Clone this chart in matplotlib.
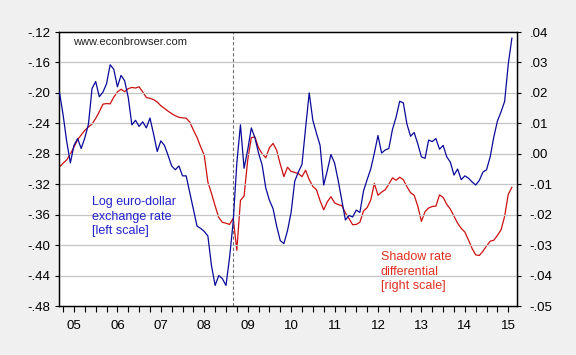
import numpy as np
import matplotlib
matplotlib.use("Agg")
import matplotlib.pyplot as plt
from matplotlib.ticker import FixedLocator, FuncFormatter

# ================= DATA (monthly, Sep 2004 - Feb 2015) =================
START_YEAR = 2004
START_MONTH = 9

# log euro-dollar exchange rate (left scale)
euro_dollar = [
    -0.199, -0.229, -0.264, -0.292, -0.269, -0.260, -0.273, -0.259, -0.241, -0.194,
    -0.185, -0.205, -0.199, -0.188, -0.163, -0.169, -0.192, -0.177, -0.184, -0.206,
    -0.242, -0.236, -0.244, -0.238, -0.246, -0.233, -0.254, -0.277, -0.263, -0.269,
    -0.282, -0.296, -0.301, -0.296, -0.309, -0.309, -0.331, -0.353, -0.375, -0.378,
    -0.382, -0.388, -0.427, -0.453, -0.440, -0.444, -0.453, -0.416, -0.369, -0.292,
    -0.242, -0.299, -0.275, -0.246, -0.259, -0.279, -0.295, -0.325, -0.341, -0.352,
    -0.375, -0.394, -0.398, -0.381, -0.357, -0.316, -0.304, -0.294, -0.246, -0.200,
    -0.236, -0.253, -0.269, -0.321, -0.302, -0.281, -0.292, -0.315, -0.341, -0.367,
    -0.361, -0.363, -0.354, -0.357, -0.329, -0.314, -0.300, -0.279, -0.256, -0.279,
    -0.275, -0.273, -0.248, -0.232, -0.211, -0.213, -0.241, -0.257, -0.252, -0.267,
    -0.284, -0.286, -0.262, -0.264, -0.260, -0.274, -0.269, -0.284, -0.291, -0.308,
    -0.300, -0.314, -0.309, -0.312, -0.317, -0.321, -0.315, -0.304, -0.301, -0.284,
    -0.258, -0.237, -0.225, -0.211, -0.162, -0.128,
]

# shadow rate differential (right scale)
shadow_diff = [
    -0.0043, -0.0031, -0.0020, -0.0001, 0.0022, 0.0046, 0.0062, 0.0077, 0.0088, 0.0098,
    0.0116, 0.0138, 0.0163, 0.0165, 0.0164, 0.0186, 0.0203, 0.0212, 0.0204, 0.0214,
    0.0218, 0.0216, 0.0220, 0.0203, 0.0185, 0.0182, 0.0178, 0.0170, 0.0158, 0.0149,
    0.0140, 0.0132, 0.0125, 0.0120, 0.0118, 0.0117, 0.0104, 0.0078, 0.0054, 0.0023,
    -0.0005, -0.0093, -0.0130, -0.0171, -0.0209, -0.0225, -0.0228, -0.0232, -0.0212, -0.0317,
    -0.0153, -0.0139, -0.0021, 0.0053, 0.0055, 0.0020, 0.0000, -0.0013, 0.0020, 0.0034,
    0.0012, -0.0034, -0.0075, -0.0044, -0.0058, -0.0061, -0.0065, -0.0075, -0.0054, -0.0085,
    -0.0107, -0.0118, -0.0154, -0.0184, -0.0158, -0.0141, -0.0161, -0.0167, -0.0170, -0.0194,
    -0.0213, -0.0233, -0.0232, -0.0225, -0.0188, -0.0177, -0.0152, -0.0097, -0.0136, -0.0126,
    -0.0118, -0.0100, -0.0079, -0.0087, -0.0077, -0.0085, -0.0108, -0.0128, -0.0136, -0.0172,
    -0.0222, -0.0190, -0.0178, -0.0173, -0.0172, -0.0135, -0.0143, -0.0166, -0.0182, -0.0205,
    -0.0228, -0.0245, -0.0257, -0.0283, -0.0311, -0.0332, -0.0334, -0.0320, -0.0303, -0.0287,
    -0.0284, -0.0268, -0.0250, -0.0205, -0.0133, -0.0110,
]

year_ticks = list(range(2005, 2016))
year_labels = ["05", "06", "07", "08", "09", "10", "11", "12", "13", "14", "15"]
left_ticks = [-0.48, -0.44, -0.40, -0.36, -0.32, -0.28, -0.24, -0.20, -0.16, -0.12]
right_ticks = [-0.05, -0.04, -0.03, -0.02, -0.01, 0.00, 0.01, 0.02, 0.03, 0.04]
lehman = 2008 + 8 / 12

# ================= STYLE =================
plt.rcParams['font.family'] = ['Liberation Sans', 'DejaVu Sans']
BG = "#F0F0F0"
BLUE_LINE = "#0A0A9A"
RED_LINE = "#CC1010"
BLUE_TXT = "#2222CC"
RED_TXT = "#E03020"


def short_fmt(v, pos=None):
    s = f"{v:.2f}"
    if s == "-0.00":
        s = "0.00"
    return s.replace("0.", ".", 1)


t = START_YEAR + (START_MONTH - 1) / 12 + np.arange(len(euro_dollar)) / 12

# ================= PLOT =================
fig = plt.figure(figsize=(5.76, 3.55), dpi=100, facecolor=BG)
ax = fig.add_axes([0.1024, 0.138, 0.7951, 0.7718])
ax2 = ax.twinx()

ax.set_xlim(2004.655, 2015.2)
ax.set_ylim(-0.48, -0.12)
ax2.set_ylim(-0.05, 0.04)

for y in left_ticks[1:-1]:
    ax.axhline(y, color="#C4C4C4", lw=0.9, zorder=0)

ax.axvline(lehman, color="#707070", lw=0.8, ls=(0, (3, 2)), zorder=1)

ax2.plot(t, shadow_diff, color=RED_LINE, lw=0.9, zorder=2)
ax.plot(t, euro_dollar, color=BLUE_LINE, lw=0.9, zorder=3)
ax.set_zorder(ax2.get_zorder() + 1)
ax.patch.set_visible(False)
ax2.patch.set_facecolor("white")
ax2.patch.set_visible(True)

# x axis: years labelled at January, quarterly ticks
ax.xaxis.set_major_locator(FixedLocator(year_ticks))
ax.set_xticklabels(year_labels)
qticks = np.arange(2004.75, 2015.2, 0.25)
ax.xaxis.set_minor_locator(FixedLocator(qticks))
ax.tick_params(axis="x", which="both", direction="out", length=4, width=0.8,
               labelsize=9.5, pad=6)

ax.yaxis.set_major_locator(FixedLocator(left_ticks))
ax.yaxis.set_major_formatter(FuncFormatter(short_fmt))
ax.tick_params(axis="y", direction="out", length=3, width=0.8, labelsize=9.5, pad=3)

ax2.yaxis.set_major_locator(FixedLocator(right_ticks))
ax2.yaxis.set_major_formatter(FuncFormatter(short_fmt))
ax2.tick_params(axis="y", direction="out", length=3, width=0.8, labelsize=9.5, pad=6)

for a in (ax, ax2):
    for sp in a.spines.values():
        sp.set_linewidth(0.9)
        sp.set_color("black")

# ================= TEXT =================
ax.text(0.0306, 0.9635, "www.econbrowser.com", transform=ax.transAxes,
        fontsize=8, color="#222222", va="center", ha="left")
ax.text(0.072, 0.326, "Log euro-dollar\nexchange rate\n[left scale]",
        transform=ax.transAxes, fontsize=9, color=BLUE_TXT,
        va="center", ha="left", linespacing=1.28)
ax.text(0.703, 0.125, "Shadow rate\ndifferential\n[right scale]",
        transform=ax.transAxes, fontsize=9, color=RED_TXT,
        va="center", ha="left", linespacing=1.28)

fig.savefig("out.png", dpi=100, facecolor=BG)
